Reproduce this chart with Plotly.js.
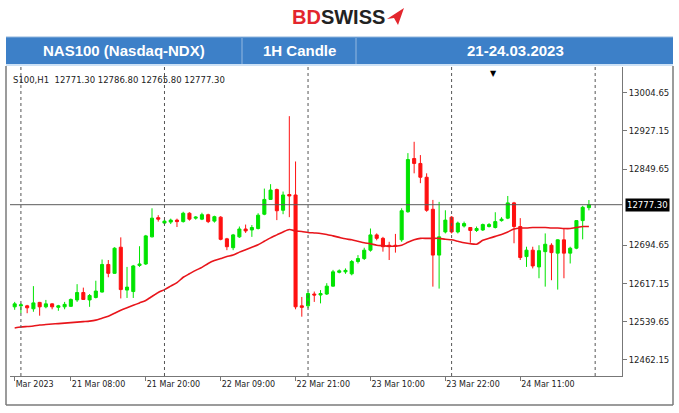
<!DOCTYPE html>
<html>
<head>
<meta charset="utf-8">
<script src="https://cdn.plot.ly/plotly-3.0.1.min.js"></script>
<style>html,body{margin:0;padding:0;background:#fff;}#chart{width:679px;height:413px;}</style>
</head>
<body>
<div id="chart"></div>
<script>
// ---- data (NAS100, H1 candles, 20-24 Mar 2023) ----
const openP  = [12570,12572,12572,12566,12579,12570,12576,12569,12570,12571,12584,12599,12584,12589,12600,12656,12638,12691,12604,12601,12654,12657,12712,12751,12740,12742,12746,12743,12760,12750,12748,12757,12744,12752,12708,12690,12712,12728,12726,12729,12758,12788,12808,12766,12798,12797,12572,12572,12596,12594,12596,12612,12640,12641,12637,12662,12668,12685,12716,12709,12695,12695,12706,12763,12871,12861,12833,12768,12675,12722,12752,12722,12734,12731,12725,12726,12733,12731,12745,12750,12781,12733,12672,12685,12651,12682,12695,12679,12706,12679,12689,12745,12771.3];
const highP  = [12580,12577,12574,12612,12580,12584,12577,12574,12580,12587,12616,12609,12596,12623,12666,12665,12691,12711,12651,12655,12693,12716,12770,12756,12748,12749,12749,12763,12762,12754,12761,12759,12755,12754,12710,12718,12733,12737,12736,12760,12810,12819,12810,12804,12957,12865,12590,12601,12601,12604,12618,12645,12646,12648,12665,12675,12690,12729,12719,12712,12702,12718,12770,12882,12905,12878,12841,12787,12783,12766,12754,12743,12743,12731,12733,12739,12740,12762,12752,12795,12783,12750,12692,12692,12695,12719,12699,12707,12729,12692,12746,12775,12786.8];
const lowP   = [12564,12557,12557,12560,12552,12567,12565,12562,12565,12570,12580,12584,12570,12587,12599,12630,12637,12587,12588,12588,12651,12655,12711,12743,12737,12738,12732,12741,12745,12747,12746,12740,12741,12705,12685,12685,12710,12720,12712,12727,12756,12787,12746,12758,12752,12565,12550,12567,12580,12577,12594,12611,12638,12637,12634,12658,12665,12682,12705,12682,12665,12680,12702,12761,12841,12821,12763,12611,12607,12719,12719,12719,12731,12700,12722,12724,12731,12729,12743,12748,12699,12665,12651,12648,12628,12611,12624,12605,12628,12658,12687,12707,12765.8];
const closeP = [12576,12574,12568,12578,12570,12576,12570,12572,12575,12585,12599,12585,12593,12602,12656,12638,12689,12605,12610,12653,12657,12714,12750,12748,12744,12746,12743,12760,12748,12752,12757,12743,12753,12707,12692,12716,12728,12724,12731,12756,12788,12807,12765,12797,12795,12570,12569,12597,12594,12597,12612,12641,12643,12644,12662,12668,12685,12716,12709,12692,12692,12693,12765,12869,12861,12833,12766,12675,12712,12746,12722,12740,12739,12725,12729,12737,12737,12743,12748,12781,12733,12670,12685,12653,12684,12697,12680,12706,12679,12689,12745,12772,12777.3];
const maLine = [12527,12529,12530,12531,12533,12534,12535,12536,12537,12538,12539,12540,12541,12543,12547,12551,12557,12563,12568,12573,12578,12583,12591,12599,12605,12612,12619,12630,12637,12644,12650,12658,12664,12668,12672,12675,12681,12686,12691,12696,12703,12710,12716,12722,12727,12724,12723,12721,12720,12719,12717,12714,12711,12708,12706,12703,12700,12698,12695,12694,12693,12693,12695,12701,12706,12709,12709,12709,12709,12707,12706,12703,12700,12698,12697,12705,12709,12713,12717,12722,12728,12730,12730,12731,12731,12731,12730,12730,12729,12729,12731,12733,12733];

const tickBars   = [1, 10, 22, 34, 46, 58, 70, 82];
const tickLabels = ['Mar 2023','21 Mar 08:00','21 Mar 20:00','22 Mar 09:00','22 Mar 21:00','23 Mar 10:00','23 Mar 22:00','24 Mar 11:00'];
const daySeparators = [2, 25, 48, 71, 94];
const priceTicks = [12462.15, 12539.65, 12617.15, 12694.65, 12849.65, 12927.15, 13004.65];
const lastPrice = 12777.30;
const infoText = 'S100,H1  12771.30 12786.80 12765.80 12777.30';

const bars = openP.map((_, i) => i + 1);

// ---- layout helpers (pixel -> paper) ----
const W = 679, H = 413, ML = 10, MR = 57, MT = 67, MB = 37;
const PW = W - ML - MR, PH = H - MT - MB;
const px = v => (v - ML) / PW;
const py = v => (H - MB - v) / PH;
const P = (a, b) => px(a) + ',' + py(b);

const FONT = 'DejaVu Sans, Verdana, sans-serif';
const HFONT = 'Liberation Sans, Arial, sans-serif';

const shapes = [];
// header bar
shapes.push({type:'rect', xref:'paper', yref:'paper', x0:px(6), x1:px(673), y0:py(64), y1:py(37), fillcolor:'#3d80c8', line:{width:0}, layer:'below'});
shapes.push({type:'line', xref:'paper', yref:'paper', x0:px(6), x1:px(673), y0:py(37), y1:py(37), line:{color:'#8fb4dc', width:1}});
shapes.push({type:'line', xref:'paper', yref:'paper', x0:px(6), x1:px(673), y0:py(65), y1:py(65), line:{color:'#9cc4ec', width:1}});
[242, 356].forEach(x => shapes.push({type:'line', xref:'paper', yref:'paper', x0:px(x), x1:px(x), y0:py(38), y1:py(64), line:{color:'rgba(255,255,255,0.45)', width:1}}));
// outer frame of chart window
shapes.push({type:'line', xref:'paper', yref:'paper', x0:px(6), x1:px(6), y0:py(66), y1:py(405), line:{color:'#7a7a7a', width:1.5}});
shapes.push({type:'line', xref:'paper', yref:'paper', x0:px(673), x1:px(673), y0:py(66), y1:py(405), line:{color:'#7a7a7a', width:1.5}});
shapes.push({type:'line', xref:'paper', yref:'paper', x0:px(6), x1:px(673), y0:py(405), y1:py(405), line:{color:'#7a7a7a', width:1.5}});
// logo arrow
shapes.push({type:'path', xref:'paper', yref:'paper', path:'M'+P(387,19)+' L'+P(404,8)+' L'+P(398,25)+' L'+P(394,18)+' Z', fillcolor:'#e3262d', line:{width:0}});
// day separators
daySeparators.forEach(b => shapes.push({type:'line', xref:'x', yref:'paper', x0:b, x1:b, y0:0, y1:1, line:{color:'#555', width:1, dash:'dot'}}));
// current price line
shapes.push({type:'line', xref:'paper', yref:'y', x0:0, x1:1, y0:lastPrice, y1:lastPrice, line:{color:'#5a5a5a', width:1}});

const ann = (x, y, text, font, extra) => Object.assign({xref:'paper', yref:'paper', x:px(x), y:py(y), text:text, showarrow:false, xanchor:'center', yanchor:'middle', font:font}, extra || {});
const annotations = [
  ann(338, 17, "<b><span style='color:#e3262d'>BD</span><span style='color:#222'>SWISS</span></b>", {family:HFONT, size:20}),
  ann(124, 51, '<b>NAS100 (Nasdaq-NDX)</b>', {family:HFONT, size:15, color:'#fff'}),
  ann(299, 51, '<b>1H Candle</b>', {family:HFONT, size:15, color:'#fff'}),
  ann(515, 51, '<b>21-24.03.2023</b>', {family:HFONT, size:15, color:'#fff'}),
  ann(11, 80, infoText, {family:FONT, size:8.5, color:'#222'}, {xanchor:'left'}),
  ann(493, 73, '▼', {family:FONT, size:8, color:'#000'}),
  {xref:'paper', yref:'y', x:1, xanchor:'left', yanchor:'middle', xshift:3, y:lastPrice, text:lastPrice.toFixed(2), showarrow:false, bgcolor:'#000', borderpad:1, font:{family:FONT, size:8.5, color:'#fff'}}
];

const traces = [
  {type:'candlestick', x:bars, open:openP, high:highP, low:lowP, close:closeP,
   increasing:{line:{color:'#00e400', width:1}, fillcolor:'#00e400'},
   decreasing:{line:{color:'#ff1010', width:1}, fillcolor:'#ff1010'},
   whiskerwidth:0, hoverinfo:'skip', showlegend:false},
  {type:'scatter', mode:'lines', x:bars, y:maLine, line:{color:'#e8151b', width:1.6, shape:'spline', smoothing:0.6}, hoverinfo:'skip', showlegend:false}
];

const layout = {
  width:W, height:H, margin:{l:ML, r:MR, t:MT, b:MB},
  paper_bgcolor:'#fff', plot_bgcolor:'#fff', showlegend:false,
  xaxis:{range:[0.25, 98.3], tickvals:tickBars, ticktext:tickLabels, ticks:'outside', ticklen:4, tickcolor:'#777', tickangle:0,
         ticklabelposition:'outside right', showline:true, linecolor:'#777', linewidth:1, showgrid:false, zeroline:false,
         rangeslider:{visible:false}, tickfont:{family:FONT, size:8, color:'#222'}, fixedrange:true, automargin:false},
  yaxis:{range:[12429.6, 13056.8], side:'right', tickvals:priceTicks, ticktext:priceTicks.map(v=>v.toFixed(2)),
         ticks:'outside', ticklen:4, tickcolor:'#777', showline:true, linecolor:'#777', linewidth:1, showgrid:false, zeroline:false,
         tickfont:{family:FONT, size:8.5, color:'#222'}, fixedrange:true, automargin:false},
  shapes:shapes, annotations:annotations
};

Plotly.newPlot('chart', traces, layout, {displayModeBar:false, staticPlot:true});
</script>
</body>
</html>
